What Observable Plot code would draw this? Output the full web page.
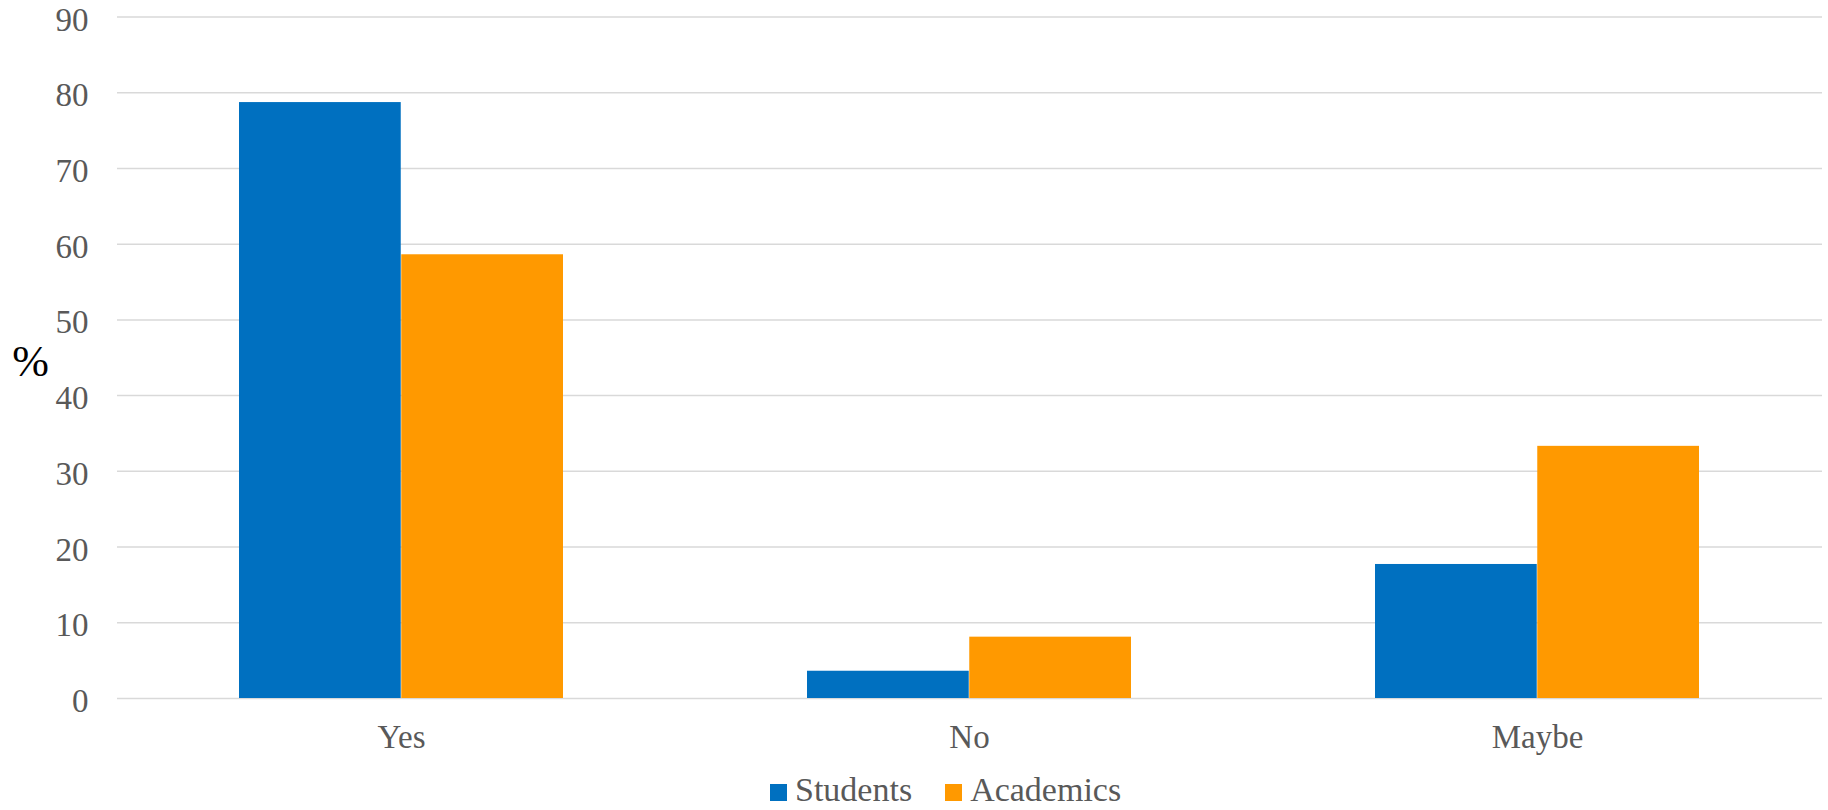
<!DOCTYPE html>
<html>
<head>
<meta charset="utf-8">
<script src="https://cdn.jsdelivr.net/npm/d3@7"></script>
<script src="https://cdn.jsdelivr.net/npm/@observablehq/plot@0.6"></script>
<style>
  html, body { margin: 0; padding: 0; background: #ffffff; }
  #legend { height: 40px; padding-left: 770px; padding-top: 3px; box-sizing: border-box; line-height: 34px;
            font-family: "Liberation Serif", serif; font-size: 34px; color: #595959; white-space: nowrap; }
  #legend .item { display: inline-block; margin-right: 33px; }
  #legend .sw { display: inline-block; width: 17px; height: 17px; margin-right: 8px; vertical-align: baseline; }
</style>
</head>
<body>
<div id="chart"></div>
<div id="legend"></div>
<script>
const categories = ["Yes", "No", "Maybe"];
const series = ["Students", "Academics"];
const students = [78.7, 3.6, 17.7];
const academics = [58.6, 8.1, 33.3];
const yTicks = [0, 10, 20, 30, 40, 50, 60, 70, 80, 90];
const colors = ["#0070C0", "#FF9900"];
const yLabel = "%";

const W = 1828, H = 770, mL = 117, mR = 6, mT = 16.5, mB = 72;
const padInner = 0.429, padOuter = 0.2145;
// half of the category band, so the two series sit side by side within it
const band = d3.scaleBand(categories, [mL, W - mR]).paddingInner(padInner).paddingOuter(padOuter);
const half = band.bandwidth() / 2;

const studentRows = categories.map((c, i) => ({category: c, series: series[0], value: students[i]}));
const academicRows = categories.map((c, i) => ({category: c, series: series[1], value: academics[i]}));

const chart = Plot.plot({
  width: W,
  height: H,
  marginTop: mT,
  marginBottom: mB,
  marginLeft: mL,
  marginRight: mR,
  style: {fontFamily: "Liberation Serif, serif", fontSize: "33px", color: "#595959", background: "#ffffff"},
  x: {domain: categories, paddingInner: padInner, paddingOuter: padOuter, axis: null},
  y: {domain: [0, 90], axis: null},
  color: {domain: series, range: colors},
  marks: [
    Plot.ruleY(yTicks, {stroke: "#d9d9d9", strokeWidth: 1.5}),
    Plot.barY(studentRows, {x: "category", y: "value", fill: "series", insetRight: half}),
    Plot.barY(academicRows, {x: "category", y: "value", fill: "series", insetLeft: half}),
    Plot.axisY(yTicks, {tickSize: 0, tickPadding: 29, dy: 3, label: null, fill: "#595959"}),
    Plot.axisX({tickSize: 0, tickPadding: 26, label: null, fill: "#595959"}),
    Plot.text([yLabel], {text: d => d, frameAnchor: "left", dx: -87, dy: 4, fontSize: 44, fill: "#000000", textAnchor: "middle"})
  ]
});
document.getElementById("chart").appendChild(chart);

const legend = document.getElementById("legend");
series.forEach((s, i) => {
  const item = document.createElement("span");
  item.className = "item";
  const sw = document.createElement("span");
  sw.className = "sw";
  sw.style.background = colors[i];
  item.appendChild(sw);
  item.appendChild(document.createTextNode(s));
  legend.appendChild(item);
});
</script>
</body>
</html>
